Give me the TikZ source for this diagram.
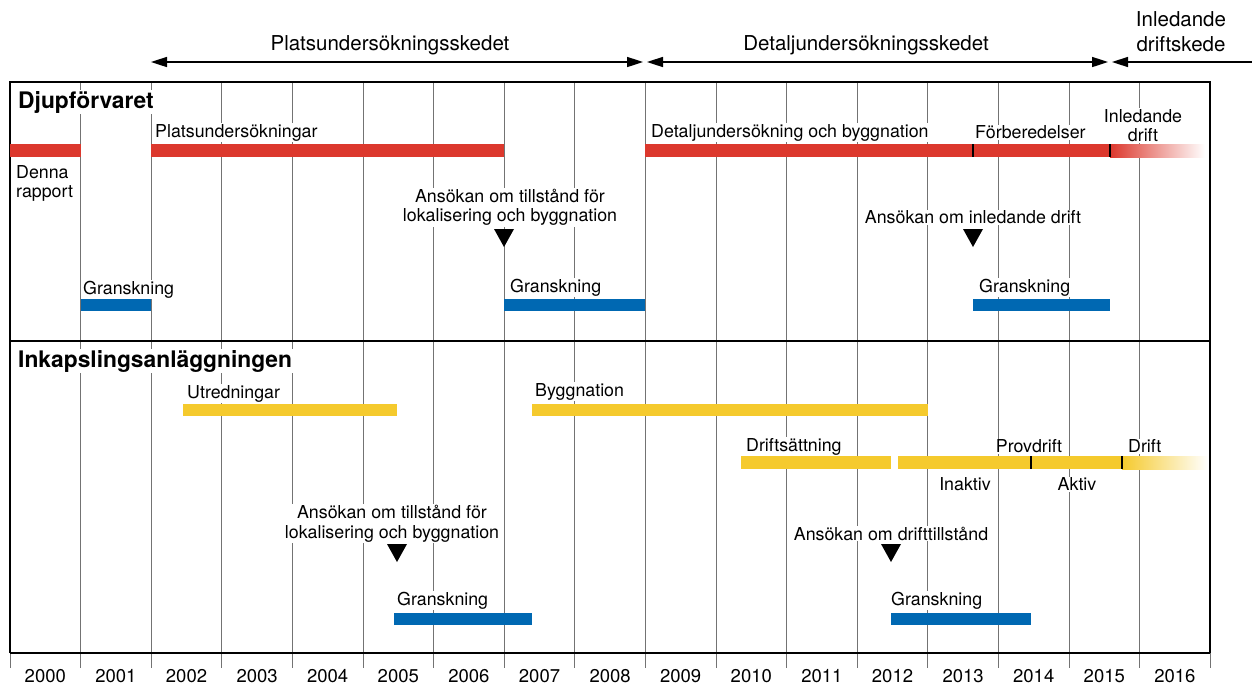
\documentclass[tikz,border=0pt]{standalone}
\usepackage{fontspec}
\setmainfont{TeX Gyre Heros}
\usepackage{xcolor}
\usepackage{tikz}
\usetikzlibrary{arrows.meta,positioning}

\definecolor{barred}{RGB}{220,56,45}
\definecolor{barblue}{RGB}{0,104,178}
\definecolor{baryel}{RGB}{245,202,45}

\tikzset{
  lbl/.style={fill=white,inner xsep=1pt,inner ysep=1pt,align=center,yshift=-1.5pt,
    font=\fontsize{17.8}{19.5}\selectfont},
  phase/.style={inner sep=1pt,align=center,font=\fontsize{20.5}{25}\selectfont},
  title/.style={fill=white,inner sep=1pt,anchor=west,
    font=\fontsize{22.8}{24}\selectfont\bfseries},
  yr/.style={inner sep=1pt,font=\fontsize{18.5}{20}\selectfont},
  gridline/.style={line width=1pt,black!55},
  frameline/.style={line width=1.8pt,black},
  tick/.style={line width=2.6pt,black},
  span/.style={line width=1.6pt,{Triangle[length=16pt,width=10pt]}-{Triangle[length=16pt,width=10pt]}},
}

\begin{document}
\begin{tikzpicture}[x=1pt,y=-1pt]
  \useasboundingbox (0,0) rectangle (1252,686);

  % year grid
  \foreach \i in {1,...,16}
    \draw[gridline] ({10+70.6*\i},82)--({10+70.6*\i},668);
  \draw[gridline] (10,653)--(10,668);
  \draw[gridline] (1210,653)--(1210,668);
  \foreach \i in {0,...,16}{
    \pgfmathtruncatemacro\yrnum{2000+\i}
    \node[yr] (yr\i) at ({45.3+70.6*\i},676) {\yrnum};
  }

  % frame
  \draw[frameline] (10,653)--(10,82)--(1210,82)--(1210,653);
  \draw[frameline] (10,341)--(1210,341);
  \draw[frameline] (10,653)--(1210,653);

  % phases
  \coordinate (p0) at (151,62);
  \coordinate (p1) at (643,62);
  \coordinate (p2) at (647,62);
  \coordinate (p3) at (1108,62);
  \coordinate (p4) at (1112,62);
  \coordinate (p5) at (1252,62);
  \draw[span] (p0)--(p1);
  \draw[span] (p2)--(p3);
  \draw[line width=1.6pt,{Triangle[length=16pt,width=10pt]}-] (p4)--(p5);
  \node[phase] (plats) at (390,45) {Platsundersökningsskedet};
  \node[phase] (detalj) at (866,45) {Detaljundersökningsskedet};
  \node[phase] (inled) at (1181,32) {Inledande\\driftskede};

  % Djupförvaret
  \fill[barred] (10,144) rectangle (81,157);
  \fill[barred] (151,144) rectangle (504,157);
  \fill[barred] (645,144) rectangle (1110,157);
  \shade[left color=barred,right color=white] (1110,144) rectangle (1205,157);
  \draw[tick] (973,144)--(973,157);
  \draw[tick] (1110,144)--(1110,157);
  \fill (494,229)--(514,229)--(504,247)--cycle;
  \fill (963,229)--(983,229)--(973,247)--cycle;
  \fill[barblue] (81,299) rectangle (151,311);
  \fill[barblue] (504,299) rectangle (645,311);
  \fill[barblue] (973,299) rectangle (1110,311);

  \node[title] (djup) at (17,102) {Djupförvaret};
  \node[lbl,anchor=west] (pu) at (154,131) {Platsundersökningar};
  \node[lbl,anchor=west,align=left] (denna) at (15,182) {Denna\\rapport};
  \node[lbl,anchor=west] (dub) at (650,131) {Detaljundersökning och byggnation};
  \node[lbl,anchor=west] (forb) at (974,131) {Förberedelser};
  \node[lbl] (idrift) at (1143,124) {Inledande\\drift};
  \node[lbl] (ans1) at (510,206) {Ansökan om tillstånd för\\lokalisering och byggnation};
  \node[lbl] (ans2) at (973,216) {Ansökan om inledande drift};
  \node[lbl,anchor=west] (gr1) at (82,288) {Granskning};
  \node[lbl,anchor=west] (gr2) at (509,286) {Granskning};
  \node[lbl,anchor=west] (gr3) at (978,286) {Granskning};

  % Inkapslingsanläggningen
  \fill[baryel] (183,404) rectangle (397,416);
  \fill[baryel] (532,404) rectangle (928,416);
  \fill[baryel] (741,456) rectangle (891,469);
  \fill[baryel] (898,456) rectangle (1122,469);
  \shade[left color=baryel,right color=white] (1122,456) rectangle (1208,469);
  \draw[tick] (1031,456)--(1031,469);
  \draw[tick] (1122,456)--(1122,469);
  \fill (387,544)--(407,544)--(397,562)--cycle;
  \fill (881,544)--(901,544)--(891,562)--cycle;
  \fill[barblue] (394,613) rectangle (532,625);
  \fill[barblue] (891,613) rectangle (1031,625);

  \node[title] (inkap) at (17,361) {Inkapslingsanläggningen};
  \node[lbl,anchor=west] (utr) at (186,392) {Utredningar};
  \node[lbl,anchor=west] (bygg) at (534,390) {Byggnation};
  \node[lbl,anchor=west] (dsatt) at (745,445) {Driftsättning};
  \node[lbl] (prov) at (1029,445) {Provdrift};
  \node[lbl,anchor=west] (drift) at (1127,445) {Drift};
  \node[lbl] (inakt) at (965,483) {Inaktiv};
  \node[lbl] (akt) at (1077,483) {Aktiv};
  \node[lbl] (ans3) at (392,522) {Ansökan om tillstånd för\\lokalisering och byggnation};
  \node[lbl] (ans4) at (891,532) {Ansökan om drifttillstånd};
  \node[lbl,anchor=west] (gr4) at (396,599) {Granskning};
  \node[lbl,anchor=west] (gr5) at (890,599) {Granskning};
\end{tikzpicture}
\end{document}
